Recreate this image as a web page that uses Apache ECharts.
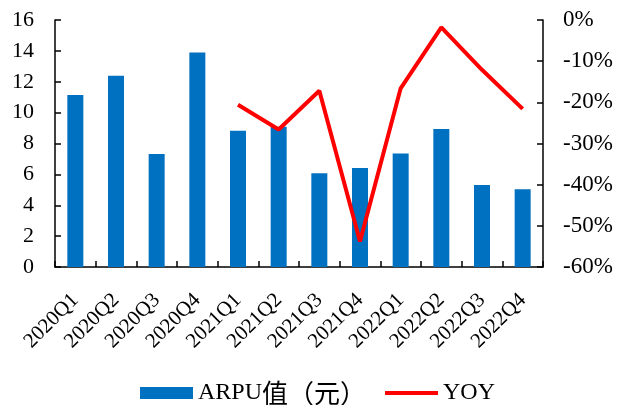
<!DOCTYPE html>
<html>
<head>
<meta charset="utf-8">
<script src="https://cdn.jsdelivr.net/npm/echarts@6/dist/echarts.min.js"></script>
<style>
  html, body { margin: 0; padding: 0; background: #fff; }
  #chart { width: 625px; height: 405px; }
</style>
</head>
<body>
<div id="chart"></div>
<script>
// Quarterly ARPU (yuan) and its year-over-year change (%)
const quarters = ['2020Q1', '2020Q2', '2020Q3', '2020Q4', '2021Q1', '2021Q2',
                  '2021Q3', '2021Q4', '2022Q1', '2022Q2', '2022Q3', '2022Q4'];
const arpu = [11.14, 12.39, 7.32, 13.9, 8.83, 9.09, 6.07, 6.41, 7.36, 8.94, 5.31, 5.03];
const yoy = [null, null, null, null, -20.6, -26.6, -17.2, -53.8, -16.6, -1.8, -12.1, -21.6];
const leftTicks = { min: 0, max: 16, interval: 2 };
const rightTicks = { min: -60, max: 0, interval: 10 };

const font = '"Liberation Serif", "Times New Roman", "Noto Sans CJK SC", serif';
const cjkFont = '"Noto Sans CJK SC", sans-serif';
const axisLine = { show: true, lineStyle: { color: '#000', width: 1.5 } };
const axisTick = { show: true, inside: true, length: 6, lineStyle: { color: '#000', width: 1.5 } };

const chart = echarts.init(document.getElementById('chart'));
chart.setOption({
  animation: false,
  grid: { left: 55, right: 82, top: 20, bottom: 138 },
  legend: {
    left: 140,
    top: 380,
    padding: 0,
    itemGap: 19,
    itemWidth: 53,
    itemHeight: 12,
    itemTextGap: 5,
    textStyle: {
      fontFamily: font, fontSize: 24, color: '#000',
      rich: {
        latin: { fontFamily: font, fontSize: 24, color: '#000' },
        cjk: { fontFamily: cjkFont, fontSize: 26, color: '#000' }
      }
    },
    formatter: function (name) {
      const m = name.match(/^([A-Za-z]+)(.*)$/);
      if (m && m[2]) return '{latin|' + m[1] + '}{cjk|' + m[2] + '}';
      return '{latin|' + name + '}';
    },
    data: [
      { name: 'ARPU值（元）', icon: 'rect' },
      { name: 'YOY', icon: 'path://M0,0H13V1H0Z', itemStyle: { color: '#FF0000' } }
    ]
  },
  xAxis: {
    type: 'category',
    data: quarters,
    axisLine: axisLine,
    axisTick: Object.assign({}, axisTick, { alignWithLabel: false }),
    axisLabel: {
      rotate: 45,
      margin: 30,
      fontFamily: font,
      fontSize: 21,
      color: '#000'
    }
  },
  yAxis: [
    {
      type: 'value',
      min: leftTicks.min, max: leftTicks.max, interval: leftTicks.interval,
      axisLine: axisLine,
      axisTick: axisTick,
      splitLine: { show: false },
      axisLabel: { fontFamily: font, fontSize: 22, color: '#000', margin: 21 }
    },
    {
      type: 'value',
      position: 'right',
      min: rightTicks.min, max: rightTicks.max, interval: rightTicks.interval,
      axisLine: axisLine,
      axisTick: axisTick,
      splitLine: { show: false },
      axisLabel: { fontFamily: font, fontSize: 23, color: '#000', margin: 20, formatter: '{value}%' }
    }
  ],
  series: [
    {
      name: 'ARPU值（元）',
      type: 'bar',
      data: arpu,
      barWidth: 16,
      itemStyle: { color: '#0070C0' }
    },
    {
      name: 'YOY',
      type: 'line',
      yAxisIndex: 1,
      data: yoy,
      symbol: 'none',
      lineStyle: { color: '#FF0000', width: 4 },
      itemStyle: { color: '#FF0000' }
    }
  ]
});
</script>
</body>
</html>
